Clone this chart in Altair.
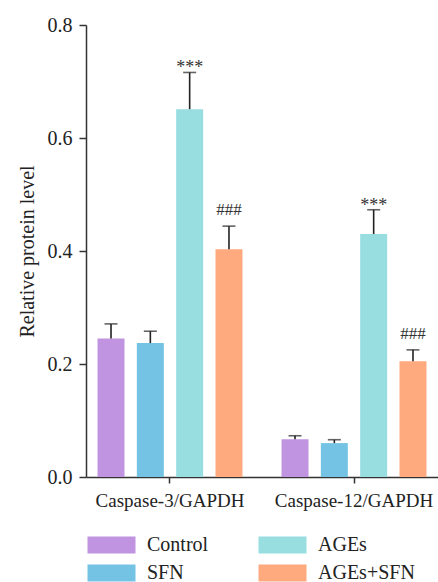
import altair as alt
import pandas as pd

groups = ["Caspase-3/GAPDH", "Caspase-12/GAPDH"]
treatments = ["Control", "SFN", "AGEs", "AGEs+SFN"]
colors = ["#C094E0", "#74C3E4", "#98DEE1", "#FFAA7E"]

means_c3 = [0.245, 0.237, 0.651, 0.403]
errs_c3 = [0.026, 0.021, 0.065, 0.041]
means_c12 = [0.067, 0.060, 0.430, 0.205]
errs_c12 = [0.006, 0.006, 0.043, 0.020]
marks_c3 = ["", "", "***", "###"]
marks_c12 = ["", "", "***", "###"]

rows = []
for g, means, errs, marks in [(groups[0], means_c3, errs_c3, marks_c3),
                              (groups[1], means_c12, errs_c12, marks_c12)]:
    for t, m, e, k in zip(treatments, means, errs, marks):
        rows.append({"group": g, "treatment": t, "mean": m, "err": e,
                     "upper": m + e, "mark": k})
df = pd.DataFrame(rows)

FONT = "Liberation Serif"

x_enc = alt.X("group:N", sort=groups,
              scale=alt.Scale(paddingInner=0.087, paddingOuter=0),
              axis=alt.Axis(title=None, labelAngle=0, labelFont=FONT, labelFontSize=19,
                            labelColor="#222", labelPadding=8, tickSize=6,
                            tickColor="#333", tickWidth=1.5, domainColor="#333",
                            domainWidth=1.5))
xo_enc = alt.XOffset("treatment:N", sort=treatments,
                     scale=alt.Scale(paddingInner=0.3136, paddingOuter=0.293))
y_scale = alt.Scale(domain=[0, 0.8], nice=False, zero=True)

base = alt.Chart(df)

bars = base.mark_bar().encode(
    x=x_enc,
    xOffset=xo_enc,
    y=alt.Y("mean:Q", scale=y_scale,
            axis=alt.Axis(values=[0, 0.2, 0.4, 0.6, 0.8], format=".1f",
                          title="Relative protein level", grid=False,
                          labelFont=FONT, labelFontSize=20, labelColor="#222",
                          labelPadding=7, tickSize=7, tickColor="#333", tickWidth=1.5,
                          domainColor="#333", domainWidth=1.5,
                          titleFont=FONT, titleFontSize=20, titleFontWeight="normal",
                          titleColor="#222", titlePadding=10)),
    color=alt.Color("treatment:N",
                    scale=alt.Scale(domain=treatments, range=colors),
                    legend=alt.Legend(orient="none", legendX=0, legendY=510,
                                      columns=2, title=None,
                                      symbolType="M-1,-1H4.647V1H-1Z",
                                      symbolSize=289, symbolStrokeWidth=0,
                                      symbolOpacity=1,
                                      labelOffset=41, columnPadding=48, rowPadding=8,
                                      labelFont=FONT, labelFontSize=20,
                                      labelColor="#222", padding=0)),
)

rules = base.mark_rule(color="#222", strokeWidth=1.6).encode(
    x=x_enc, xOffset=xo_enc, y=alt.Y("mean:Q", scale=y_scale), y2="upper:Q")

caps = base.mark_tick(color="#222", thickness=1.6, size=13, orient="horizontal").encode(
    x=x_enc, xOffset=xo_enc, y=alt.Y("upper:Q", scale=y_scale))

stars = base.transform_filter(alt.datum.mark == "***").mark_text(
    font=FONT, fontSize=18, color="#333", baseline="alphabetic", dy=1).encode(
    x=x_enc, xOffset=xo_enc, y=alt.Y("upper:Q", scale=y_scale), text="mark:N")

hashes = base.transform_filter(alt.datum.mark == "###").mark_text(
    font=FONT, fontSize=17, color="#333", baseline="alphabetic", dy=-10.7).encode(
    x=x_enc, xOffset=xo_enc, y=alt.Y("upper:Q", scale=y_scale), text="mark:N")

chart = alt.layer(bars, rules, caps, stars, hashes).properties(
    width=352, height=452,
    autosize=alt.AutoSizeParams(type="none"),
    padding={"left": 86, "top": 25, "right": 0, "bottom": 105},
).configure_view(stroke=None)

chart.save("out.html", embed_options={"renderer": "svg", "actions": False})
